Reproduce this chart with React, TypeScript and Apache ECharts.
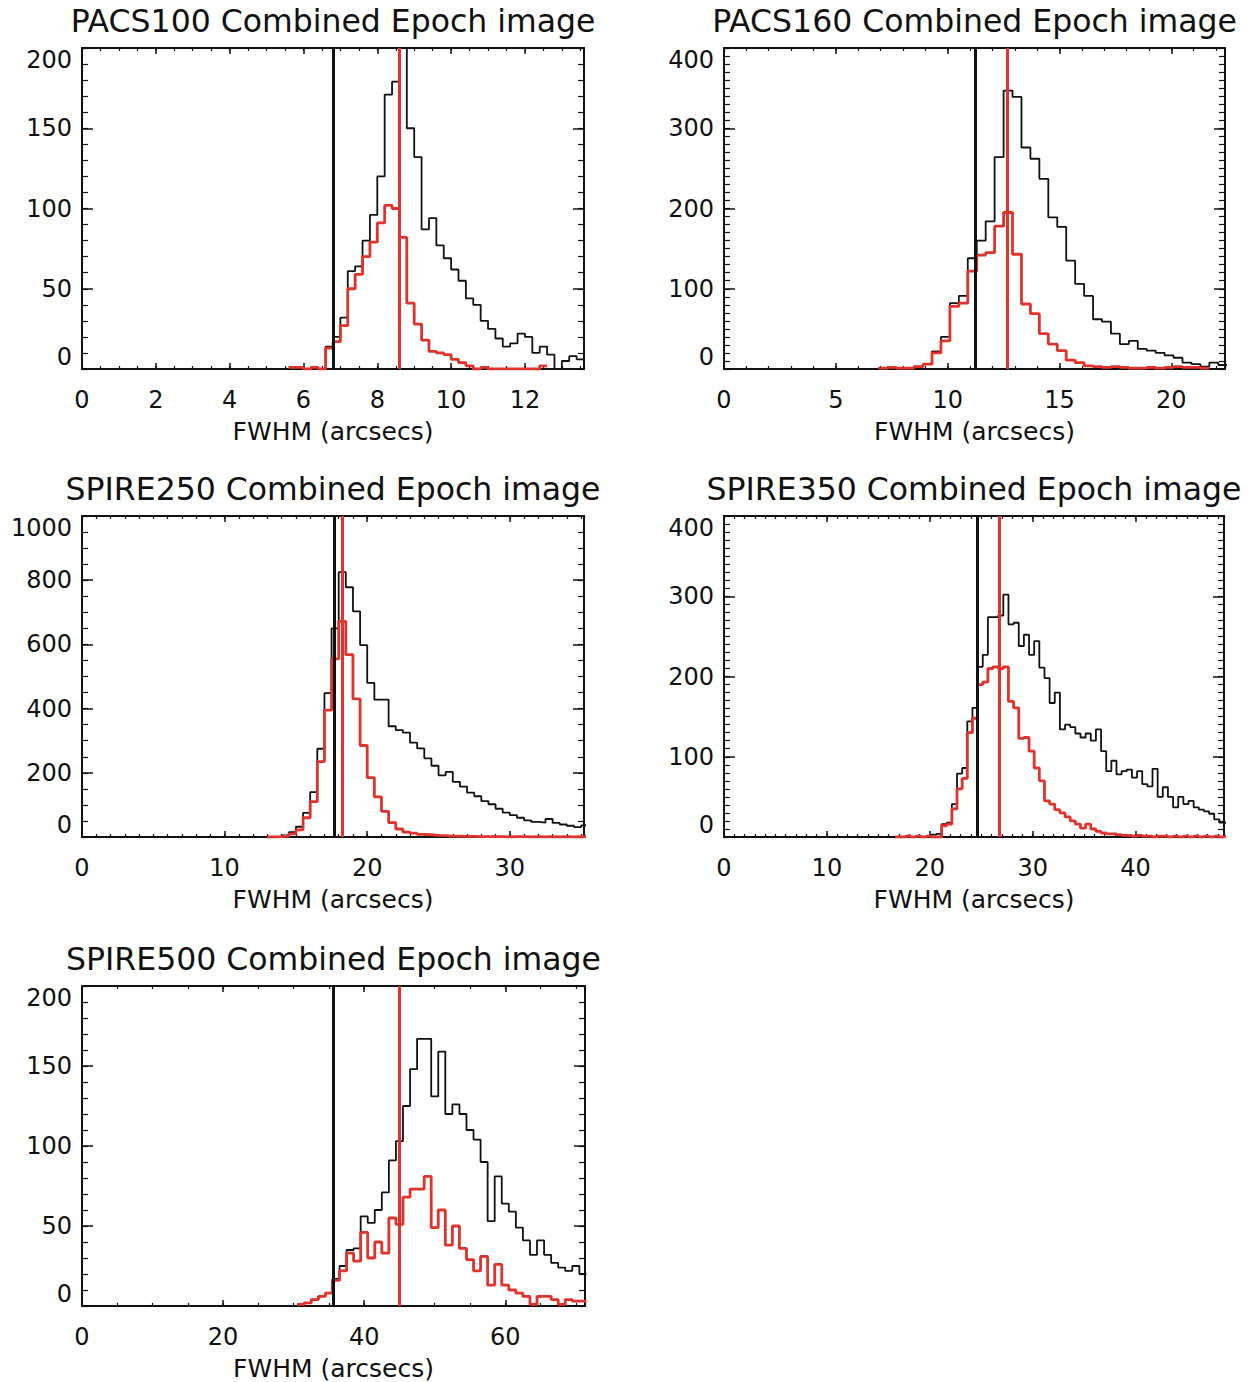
import { useEffect, useRef } from 'react';
import * as echarts from 'echarts';

const FONT = "'DejaVu Sans', 'Liberation Sans', sans-serif";
const INK = '#111111';
const RED = '#e2322c';

// Histograms: first bin edge, bin width, counts per bin (black = all, red = subset)
const pacs100Start = 5.6;
const pacs100Bin = 0.2;
const pacs100Black = [1, 1, 0, 1, 0, 14, 20, 32, 61, 64, 80, 96, 120, 171, 179, 215, 150, 132, 87, 94, 77, 69, 62, 55, 44, 40, 30, 25, 19, 14, 16, 22, 20, 10, 14, 9, 0, 5, 8, 6];
const pacs100Red = [1, 1, 0, 1, 0, 13, 17, 27, 50, 59, 70, 79, 91, 102, 100, 82, 41, 28, 18, 11, 10, 9, 6, 4, 2, 0, 1, 0, 0, 0, 0, 0, 0, 0, 2];
const pacs100Marks = [6.8, 8.6];

const pacs160Start = 6.9;
const pacs160Bin = 0.4;
const pacs160Black = [1, 2, 1, 1, 3, 6, 22, 40, 82, 91, 138, 160, 184, 264, 347, 339, 276, 262, 237, 189, 177, 135, 106, 91, 62, 59, 44, 31, 35, 25, 23, 20, 17, 14, 8, 6, 3, 8, 5];
const pacs160Red = [1, 2, 1, 1, 3, 6, 20, 35, 78, 82, 122, 142, 145, 178, 195, 143, 81, 69, 44, 31, 23, 11, 8, 4, 3, 2, 3, 2, 1, 1, 2, 1, 2, 3, 2, 2, 1];
const pacs160Marks = [11.25, 12.65];

const spire250Start = 13.0;
const spire250Bin = 0.5;
const spire250Black = [0, 1, 5, 15, 32, 75, 140, 275, 448, 650, 825, 778, 703, 598, 480, 428, 428, 345, 333, 325, 294, 276, 245, 222, 192, 203, 172, 157, 138, 127, 112, 102, 88, 76, 68, 60, 52, 47, 45, 56, 44, 39, 35, 31, 36];
const spire250Red = [0, 1, 3, 10, 22, 60, 110, 235, 395, 555, 672, 568, 430, 285, 185, 125, 80, 45, 25, 15, 12, 8, 7, 5, 4, 3, 3, 2, 2, 1, 1, 1, 1, 0, 1, 1, 0, 1, 0, 1, 0, 1, 0, 1, 0];
const spire250Marks = [17.67, 18.25];

const spire350Start = 16.65;
const spire350Bin = 0.5;
const spire350Black = [0, 0, 1, 0, 1, 0, 1, 3, 4, 16, 18, 41, 79, 86, 144, 161, 212, 227, 274, 274, 276, 302, 265, 267, 238, 252, 227, 244, 211, 198, 167, 180, 134, 140, 137, 129, 124, 129, 120, 134, 107, 82, 95, 78, 82, 84, 74, 82, 66, 63, 85, 50, 62, 50, 37, 50, 41, 45, 37, 34, 32, 29, 22, 18, 18];
const spire350Red = [0, 0, 1, 0, 1, 0, 1, 0, 0, 14, 16, 35, 60, 73, 130, 148, 190, 193, 210, 212, 210, 212, 169, 161, 123, 124, 107, 86, 70, 45, 41, 34, 30, 25, 20, 16, 11, 16, 10, 7, 5, 4, 4, 3, 2, 2, 1, 2, 1, 1, 0, 1, 1, 0, 1, 0, 1, 0, 1, 0, 1, 0, 1, 0, 1];
const spire350Marks = [24.6, 26.8];

const spire500Start = 30.5;
const spire500Bin = 1.0;
const spire500Black = [1, 2, 4, 6, 8, 17, 25, 35, 36, 56, 52, 60, 71, 91, 103, 125, 148, 167, 167, 131, 159, 120, 126, 120, 110, 104, 90, 53, 81, 64, 59, 49, 41, 32, 41, 32, 27, 24, 22, 25, 20];
const spire500Red = [1, 2, 4, 6, 8, 16, 22, 33, 28, 46, 30, 40, 33, 55, 51, 68, 73, 73, 81, 49, 60, 38, 50, 36, 29, 22, 31, 13, 26, 13, 10, 8, 6, 1, 6, 6, 4, 1, 4, 3, 3];
const spire500Marks = [35.6, 44.9];

const titles = [
    'PACS100 Combined Epoch image',
    'PACS160 Combined Epoch image',
    'SPIRE250 Combined Epoch image',
    'SPIRE350 Combined Epoch image',
    'SPIRE500 Combined Epoch image',
];

const panels = [
    { start: pacs100Start, bin: pacs100Bin, black: pacs100Black, red: pacs100Red, marks: pacs100Marks, xMax: 13.6, xStep: 2, xMinor: 0.5, yMax: 200, yStep: 50, yMinor: 10 },
    { start: pacs160Start, bin: pacs160Bin, black: pacs160Black, red: pacs160Red, marks: pacs160Marks, xMax: 22.4, xStep: 5, xMinor: 1, yMax: 400, yStep: 100, yMinor: 10 },
    { start: spire250Start, bin: spire250Bin, black: spire250Black, red: spire250Red, marks: spire250Marks, xMax: 35.2, xStep: 10, xMinor: 1, yMax: 1000, yStep: 200, yMinor: 50 },
    { start: spire350Start, bin: spire350Bin, black: spire350Black, red: spire350Red, marks: spire350Marks, xMax: 48.6, xStep: 10, xMinor: 1, yMax: 400, yStep: 100, yMinor: 10 },
    { start: spire500Start, bin: spire500Bin, black: spire500Black, red: spire500Red, marks: spire500Marks, xMax: 71.3, xStep: 20, xMinor: 5, yMax: 200, yStep: 50, yMinor: 10 },
];

// plot boxes in page pixels
const boxes = [
    { left: 82, top: 48, width: 502, height: 321 },
    { left: 724, top: 48, width: 501, height: 321 },
    { left: 82, top: 516, width: 502, height: 321 },
    { left: 724, top: 516, width: 500, height: 321 },
    { left: 82, top: 986, width: 503, height: 320 },
];

function toSteps(start: number, bin: number, counts: number[]) {
    const pts = counts.map((c, i) => [+(start + i * bin).toFixed(3), c]);
    pts.push([+(start + counts.length * bin).toFixed(3), counts[counts.length - 1]]);
    return pts;
}

function vline(x: number, color: string) {
    return {
        silent: true,
        animation: false,
        symbol: ['none', 'none'],
        label: { show: false },
        emphasis: { disabled: true },
        lineStyle: { color, width: 3, type: 'solid' },
        data: [{ xAxis: x }],
    };
}

export default function App() {
    const chartRef = useRef<HTMLDivElement>(null);

    useEffect(() => {
        if (!chartRef.current) return;
        document.body.style.margin = '0';

        const chart = echarts.init(chartRef.current, null, { renderer: 'svg' });

        const frame = { show: true, onZero: false, lineStyle: { color: INK, width: 2 } };
        const noLine = { show: false, onZero: false };
        const text = { fontFamily: FONT, fontSize: 24, color: INK };
        const plain = (v: number) => String(v);

        const title: any[] = [];
        const grid: any[] = [];
        const xAxis: any[] = [];
        const yAxis: any[] = [];
        const series: any[] = [];

        panels.forEach((p, i) => {
            const b = boxes[i];
            grid.push({ ...b, containLabel: false, outerBoundsMode: 'none' });
            title.push({
                text: titles[i],
                left: b.left + b.width / 2,
                top: b.top - 43,
                textAlign: 'center',
                textVerticalAlign: 'top',
                padding: 0,
                textStyle: { fontFamily: FONT, fontSize: 31.5, fontWeight: 'normal', color: INK },
            });

            const xb = { type: 'value', gridIndex: i, min: 0, max: p.xMax, splitLine: { show: false } };
            xAxis.push(
                {
                    ...xb, position: 'bottom', interval: p.xStep, axisLine: frame,
                    axisTick: { show: true, inside: true, length: 6, lineStyle: { color: INK, width: 1.5 } },
                    axisLabel: { ...text, margin: 19, showMaxLabel: false, formatter: plain },
                    name: 'FWHM (arcsecs)', nameLocation: 'middle', nameGap: 50,
                    nameTextStyle: { ...text, fontSize: 25 },
                },
                {
                    ...xb, position: 'top', interval: p.xStep, axisLine: frame,
                    axisTick: { show: true, inside: true, length: 6, lineStyle: { color: INK, width: 1.5 } },
                    axisLabel: { show: false },
                },
                {
                    ...xb, position: 'bottom', interval: p.xMinor, axisLine: noLine,
                    axisTick: { show: true, inside: true, length: 3, lineStyle: { color: INK, width: 1.2 } },
                    axisLabel: { show: false },
                },
                {
                    ...xb, position: 'top', interval: p.xMinor, axisLine: noLine,
                    axisTick: { show: true, inside: true, length: 3, lineStyle: { color: INK, width: 1.2 } },
                    axisLabel: { show: false },
                },
            );

            const yb = { type: 'value', gridIndex: i, min: 0, max: p.yMax, splitLine: { show: false } };
            yAxis.push(
                {
                    ...yb, position: 'left', interval: p.yStep, axisLine: frame,
                    axisTick: { show: true, inside: true, length: 11, lineStyle: { color: INK, width: 1.5 } },
                    axisLabel: { ...text, margin: 10, formatter: plain, verticalAlignMinLabel: 'bottom', verticalAlignMaxLabel: 'top' },
                },
                {
                    ...yb, position: 'right', interval: p.yStep, axisLine: frame,
                    axisTick: { show: true, inside: true, length: 11, lineStyle: { color: INK, width: 1.5 } },
                    axisLabel: { show: false },
                },
                {
                    ...yb, position: 'left', interval: p.yMinor, axisLine: noLine,
                    axisTick: { show: true, inside: true, length: 6, lineStyle: { color: INK, width: 1.2 } },
                    axisLabel: { show: false },
                },
                {
                    ...yb, position: 'right', interval: p.yMinor, axisLine: noLine,
                    axisTick: { show: true, inside: true, length: 6, lineStyle: { color: INK, width: 1.2 } },
                    axisLabel: { show: false },
                },
            );

            series.push(
                {
                    type: 'line', xAxisIndex: 4 * i, yAxisIndex: 4 * i, step: 'end',
                    data: toSteps(p.start, p.bin, p.black), symbol: 'none', silent: true,
                    lineStyle: { color: INK, width: 1.8 },
                    markLine: vline(p.marks[0], INK),
                },
                {
                    type: 'line', xAxisIndex: 4 * i, yAxisIndex: 4 * i, step: 'end',
                    data: toSteps(p.start, p.bin, p.red), symbol: 'none', silent: true,
                    lineStyle: { color: RED, width: 2.8 },
                    markLine: vline(p.marks[1], RED),
                },
            );
        });

        const option = {
            animation: false,
            backgroundColor: '#ffffff',
            title,
            grid,
            xAxis,
            yAxis,
            series,
        };

        chart.setOption(option as any);

        const handleResize = () => {
            chart.resize();
        };
        window.addEventListener('resize', handleResize);

        return () => {
            window.removeEventListener('resize', handleResize);
            chart.dispose();
        };
    }, []);

    return <div ref={chartRef} style={{ width: 1255, height: 1382 }} />;
}
